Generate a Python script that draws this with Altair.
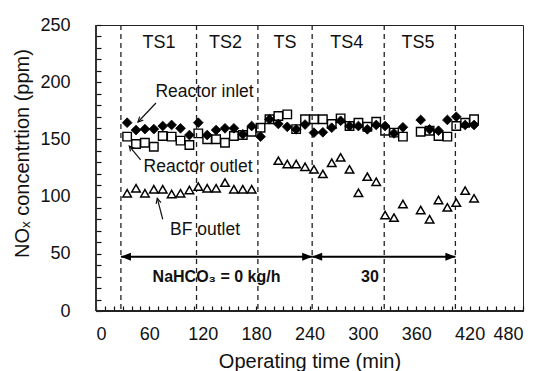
import math
import altair as alt
import pandas as pd

# ---------------- data ----------------
time_min = [35, 45, 55, 65, 75, 85, 95, 105, 115, 125, 135, 145, 155, 165, 175,
            185, 195, 205, 215, 225, 235, 245, 255, 265, 275, 285, 295, 305, 315,
            325, 335, 345, 365, 375, 385, 395, 405, 415, 425]
reactor_inlet = [164.6, 158.2, 159, 159, 161.7, 162.6, 159.7, 153.8, 164.6, 153.8,
                 158.2, 159.7, 159.7, 154.5, 161.7, 152.4, 167.6, 163.5, 161, 158.8,
                 163, 155.9, 156.2, 160.2, 166.3, 161.7, 161.7, 158.8, 162.6, 161.7,
                 155.3, 160.6, 167, 158.8, 157.6, 167, 169.8, 162.6, 162.6]
reactor_outlet = [152.4, 146, 147.1, 143.6, 153, 152.4, 148.9, 145.1, 155.3, 150.1,
                  150.1, 147.1, 153, 153.8, 156.7, 160.2, 167.6, 170.5, 171.9, 159,
                  167.6, 167.6, 167.6, 163.5, 168.4, 161.7, 164.6, 161, 165.5, 157.6,
                  155.9, 152.4, 156.7, 157.6, 153, 152.4, 161.7, 164.6, 167.6]
bf_time = [35, 45, 55, 65, 75, 85, 95, 105, 115, 125, 135, 145, 155, 165, 175,
           205, 215, 225, 235, 245, 255, 265, 275, 285, 295, 305, 315, 325, 335, 345,
           365, 375, 385, 395, 405, 415, 425]
bf_outlet = [102.9, 107.3, 102.9, 106.4, 106.4, 102.3, 102.9, 105.8, 108.7, 107.3,
             107.3, 112.2, 106.4, 106.4, 106.4,
             131.4, 128.5, 128.5, 126.1, 123.8, 119.8, 129.6, 134.3, 123.8, 103.4,
             117.4, 113, 83.9, 81.6, 93.5,
             88.3, 80.2, 97, 90.6, 94.7, 105.2, 98.5]

# test-stage boundaries (min)
stage_bounds = [28, 113, 182, 243, 324, 404]
stage_labels = ["TS1", "TS2", "TS", "TS4", "TS5"]
stage_label_x = [70.8, 145.6, 212.5, 282, 362]
stage_label_y = 234

# series name labels
series_text = ["Reactor inlet", "Reactor outlet", "BF outlet"]
series_text_x = [122, 114.7, 122.5]
series_text_y = [191.4, 126.1, 70.8]

# leader arrows (tail -> tip)
lead_x1 = [67.4, 50.2, 75.0]
lead_y1 = [181.8, 132.0, 80.2]
lead_x2 = [47.2, 37.4, 68.9]
lead_y2 = [165.2, 144.2, 98.5]

# NaHCO3 dosing spans
dose_start = [28, 243]
dose_end = [243, 404]
dose_text = ["NaHCO₃ = 0 kg/h", "30"]
dose_text_x = [135.5, 308]
dose_arrow_y = 47.5
dose_text_y = 30

# ---------------- layout ----------------
W, H = 427, 286
X_MAX, Y_MAX = 480, 250
FONT = "Liberation Sans"

xs = alt.Scale(domain=[0, X_MAX], nice=False, zero=False)
ys = alt.Scale(domain=[0, Y_MAX], nice=False, zero=False)

x_ticks = list(range(0, X_MAX + 1, 10))
y_ticks = list(range(0, Y_MAX + 1, 10))

x_axis = alt.Axis(values=x_ticks, labelExpr="datum.value % 60 === 0 ? datum.label : ''",
                  offset=-5, tickSize=5, tickColor="#111", tickWidth=1.2,
                  domain=False, grid=False, labelPadding=14, labelFontSize=18,
                  labelFont=FONT, labelColor="#111", title="Operating time (min)",
                  titleFont=FONT, titleFontSize=20, titleFontWeight="normal",
                  titleColor="#111", titleY=55, titleBaseline="middle",
                  labelOverlap=False)
y_axis = alt.Axis(values=y_ticks, labelExpr="datum.value % 50 === 0 ? datum.label : ''",
                  offset=-5, tickSize=5, tickColor="#111", tickWidth=1.2,
                  domain=False, grid=False, labelPadding=26, labelFontSize=18,
                  labelFont=FONT, labelColor="#111", title="NOₓ concentrtion (ppm)",
                  titleFont=FONT, titleFontSize=20, titleFontWeight="normal",
                  titleColor="#111", titleX=-79, titleY=128, titleBaseline="middle",
                  titleAngle=270, labelOverlap=False)


def X(field):
    return alt.X(field, scale=xs, axis=x_axis)


def Y(field):
    return alt.Y(field, scale=ys, axis=y_axis)


main_df = pd.DataFrame({"t": time_min, "inlet": reactor_inlet, "outlet": reactor_outlet})
bf_df = pd.DataFrame({"t": bf_time, "bf": bf_outlet})

squares = alt.Chart(main_df).mark_point(
    shape="square", size=72, filled=True, fill="white", stroke="black",
    strokeWidth=1.4, opacity=1
).encode(x=X("t:Q"), y=Y("outlet:Q"))

diamonds = alt.Chart(main_df).mark_point(
    shape="diamond", size=95, filled=True, fill="black", stroke="black",
    strokeWidth=0.8, opacity=1
).encode(x=X("t:Q"), y=Y("inlet:Q"))

triangles = alt.Chart(bf_df).mark_point(
    shape="triangle-up", size=72, filled=True, fill="white", stroke="black",
    strokeWidth=1.5, opacity=1
).encode(x=X("t:Q"), y=Y("bf:Q"))

bounds_df = pd.DataFrame({"t": stage_bounds})
dashed = alt.Chart(bounds_df).mark_rule(
    color="#222", strokeWidth=1.3, strokeDash=[5, 4]
).encode(x=X("t:Q"))

stage_df = pd.DataFrame({"t": stage_label_x, "v": [stage_label_y] * len(stage_labels),
                         "label": stage_labels})
stage_txt = alt.Chart(stage_df).mark_text(
    font=FONT, fontSize=18, color="#111", align="center", baseline="middle"
).encode(x=X("t:Q"), y=Y("v:Q"), text="label:N")

series_df = pd.DataFrame({"t": series_text_x, "v": series_text_y, "label": series_text})
series_txt = alt.Chart(series_df).mark_text(
    font=FONT, fontSize=17.5, color="#111", align="center", baseline="middle"
).encode(x=X("t:Q"), y=Y("v:Q"), text="label:N")

# leader arrows
sx, sy = W / X_MAX, H / Y_MAX
angles = []
for a, b, c, d in zip(lead_x1, lead_y1, lead_x2, lead_y2):
    dx = (c - a) * sx
    dy = -(d - b) * sy
    angles.append((math.degrees(math.atan2(dx, -dy)) + 360) % 360)
lead_df = pd.DataFrame({"x1": lead_x1, "y1": lead_y1, "x2": lead_x2, "y2": lead_y2,
                        "ang": angles})
lead_lines = alt.Chart(lead_df).mark_rule(color="#111", strokeWidth=1.2).encode(
    x=X("x1:Q"), y=Y("y1:Q"), x2="x2:Q", y2="y2:Q")
lead_heads = alt.Chart(lead_df).mark_point(
    shape="M-0.5,1L0,0L0.5,1", size=100, filled=False, stroke="#111",
    strokeWidth=1.2, opacity=1
).encode(x=X("x2:Q"), y=Y("y2:Q"), angle=alt.Angle("ang:Q", scale=None))

# dosing arrows
dose_df = pd.DataFrame({"s": dose_start, "e": dose_end,
                        "v": [dose_arrow_y] * len(dose_start)})
dose_line = alt.Chart(dose_df).mark_rule(color="black", strokeWidth=2).encode(
    x=X("s:Q"), x2="e:Q", y=Y("v:Q"))
head_right = alt.Chart(dose_df).mark_point(
    shape="M1,0L-1,-0.8L-1,0.8Z", size=100, filled=True, color="black", opacity=1,
    xOffset=-5
).encode(x=X("e:Q"), y=Y("v:Q"))
head_left = alt.Chart(dose_df).mark_point(
    shape="M-1,0L1,-0.8L1,0.8Z", size=100, filled=True, color="black", opacity=1,
    xOffset=5
).encode(x=X("s:Q"), y=Y("v:Q"))

dose_txt_df = pd.DataFrame({"t": dose_text_x, "v": [dose_text_y] * len(dose_text),
                            "label": dose_text})
dose_txt = alt.Chart(dose_txt_df).mark_text(
    font=FONT, fontSize=16, fontWeight="bold", color="#111", align="center",
    baseline="middle"
).encode(x=X("t:Q"), y=Y("v:Q"), text="label:N")

frame = alt.Chart(pd.DataFrame({"k": [0]})).mark_rule(color="#333", strokeWidth=2).encode(
    x=alt.value(0), y=alt.value(0), y2=alt.value(H))
frame_b = alt.Chart(pd.DataFrame({"k": [0]})).mark_rule(color="#222", strokeWidth=2).encode(
    x=alt.value(0), x2=alt.value(W), y=alt.value(H))

chart = alt.layer(
    squares, dashed, diamonds, triangles, stage_txt, series_txt,
    lead_lines, lead_heads, dose_line, head_right, head_left, dose_txt, frame, frame_b
).properties(
    width=W, height=H,
    autosize=alt.AutoSizeParams(type="none"),
    padding={"left": 96, "top": 25, "right": 15, "bottom": 60},
    background="white",
).configure_view(stroke="#222", strokeWidth=1)

chart.save("out.html", embed_options={"renderer": "svg", "actions": False})
